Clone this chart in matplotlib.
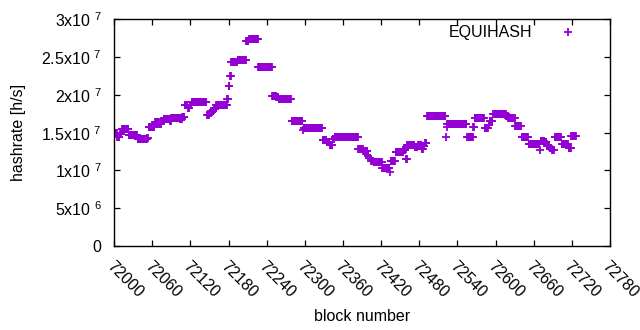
import numpy as np
import matplotlib
matplotlib.use('Agg')
import matplotlib.pyplot as plt

plt.rcParams['font.family'] = ['Liberation Sans', 'DejaVu Sans']
plt.rcParams['mathtext.fontset'] = 'custom'
plt.rcParams['mathtext.rm'] = 'Liberation Sans'
plt.rcParams['mathtext.it'] = 'Liberation Sans'

# hashrate is constant over runs of blocks: run start block, value (x1e7 h/s)
run_start = [72001, 72005, 72009, 72012, 72023, 72037, 72052, 72054, 72064, 72071,
             72074, 72078, 72088, 72090, 72098, 72104, 72107, 72111, 72116, 72119,
             72122, 72146, 72150, 72153, 72157, 72160, 72178, 72180, 72182, 72184,
             72194, 72208, 72212, 72227, 72249, 72255, 72259, 72279, 72297, 72298,
             72328, 72335, 72339, 72344, 72347, 72384, 72392, 72399, 72401, 72404,
             72408, 72422, 72434, 72435, 72443, 72455, 72459, 72461, 72473, 72478,
             72484, 72487, 72489, 72492, 72522, 72523, 72524, 72555, 72565, 72567,
             72583, 72589, 72591, 72596, 72617, 72620, 72631, 72641, 72652, 72670,
             72671, 72677, 72681, 72685, 72689, 72693, 72704, 72715, 72719]
run_value = [1.49, 1.44, 1.48, 1.55, 1.47, 1.41, 1.43, 1.57, 1.64, 1.62,
             1.65, 1.68, 1.66, 1.69, 1.70, 1.68, 1.71, 1.86, 1.83, 1.87,
             1.90, 1.73, 1.76, 1.79, 1.81, 1.87, 1.95, 2.12, 2.25, 2.43,
             2.46, 2.71, 2.74, 2.37, 1.99, 1.97, 1.94, 1.66, 1.53, 1.56,
             1.40, 1.37, 1.34, 1.41, 1.44, 1.28, 1.26, 1.19, 1.16, 1.13,
             1.11, 1.03, 0.98, 1.13, 1.24, 1.27, 1.15, 1.34, 1.31, 1.34,
             1.29, 1.33, 1.36, 1.72, 1.44, 1.57, 1.61, 1.44, 1.57, 1.70,
             1.56, 1.60, 1.65, 1.75, 1.72, 1.70, 1.59, 1.44, 1.35, 1.265,
             1.39, 1.37, 1.33, 1.30, 1.27, 1.44, 1.35, 1.30, 1.45]
last_block = 72726

x_ticks = list(range(72000, 72781, 60))
y_ticks = [0, 5e6, 1e7, 1.5e7, 2e7, 2.5e7, 3e7]
y_labels = ['0', '5x10 $^{6}$', '1x10 $^{7}$', '1.5x10 $^{7}$', '2x10 $^{7}$',
            '2.5x10 $^{7}$', '3x10 $^{7}$']

ends = run_start[1:] + [last_block + 1]
lengths = np.array(ends) - np.array(run_start)
blocks = np.arange(run_start[0], last_block + 1)
hashrate = np.repeat(np.array(run_value) * 1e7, lengths)

fig = plt.figure(figsize=(6.4, 3.3), dpi=100)
ax = fig.add_axes([0.1785, 0.2545, 0.7745, 0.687])

ax.plot(blocks, hashrate, linestyle='none', marker='+', color='#9400d3',
        markersize=6, markeredgewidth=1.3, label='EQUIHASH')

ax.set_xlim(72000, 72780)
ax.set_ylim(0, 3e7)
ax.set_xticks(x_ticks)
ax.set_xticklabels([str(t) for t in x_ticks], rotation=-45, ha='left', va='top',
                   rotation_mode='anchor')
ax.set_yticks(y_ticks)
ax.set_yticklabels(y_labels)
ax.tick_params(direction='in', length=4.5, width=0.9, top=True, right=True,
               labelsize=11.5, colors='black', pad=5)
ax.tick_params(axis='x', pad=9)
ax.tick_params(axis='y', pad=9)
for s in ax.spines.values():
    s.set_linewidth(1.0)

ax.set_xlabel('block number', fontsize=11.5, labelpad=6)
ax.set_ylabel('hashrate [h/s]', fontsize=11.5, labelpad=11)

ax.legend(loc='upper right', bbox_to_anchor=(0.966, 1.015), frameon=False,
          markerfirst=False, fontsize=11.5, handlelength=2.0, handletextpad=1.2,
          borderaxespad=0.2)

fig.savefig('out.png', dpi=100)
